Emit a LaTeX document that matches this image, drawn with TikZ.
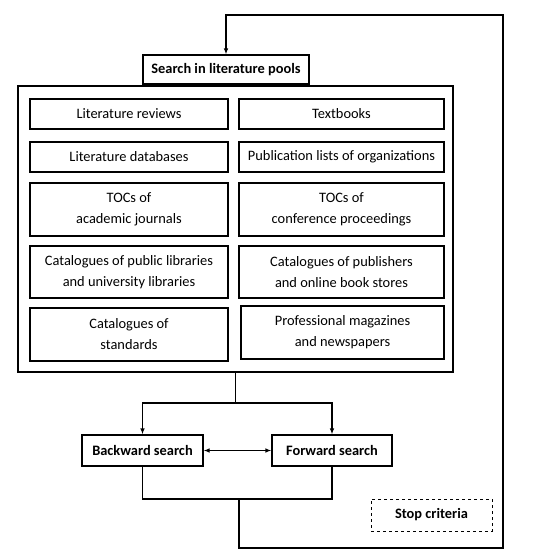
\documentclass[tikz,border=0pt]{standalone}
\usepackage{fontspec}
\setmainfont{Carlito}
\usetikzlibrary{arrows.meta,positioning}
\tikzset{>/.tip={Latex[length=6pt,width=4.5pt]}}

\begin{document}
\begin{tikzpicture}[x=1pt,y=-1pt,font=\fontsize{14.4}{21}\selectfont,line width=1.1pt,
        src/.style={draw,line width=1.4pt,align=center,inner sep=0pt,minimum height=30pt},
        srcl/.style={src,minimum width=198pt},
        srcr/.style={src,minimum width=205pt},
        tall/.style={minimum height=53pt},
        act/.style={draw,font=\fontsize{14.4}{21}\selectfont\bfseries,inner sep=0pt,minimum height=31pt}]
        \useasboundingbox (0,0) rectangle (541,557);
        % literature pools
        \node(pool)[draw,minimum width=435pt,minimum height=286pt,inner sep=0pt] at (235.5,229) {};
        \node(title)[act,minimum width=166pt,minimum height=29pt] at (226,69.5) {Search in literature pools};
        \node(rev)[srcl] at (129,114) {Literature reviews};
        \node(txt)[srcr] at (341.5,114) {Textbooks};
        \node(db)[srcl] at (129,157) {Literature databases};
        \node(pub)[srcr] at (341.5,157) {Publication lists of organizations};
        \node(tocj)[srcl,tall] at (129,209.5) {TOCs of\\academic journals};
        \node(tocc)[srcr,tall] at (341.5,209.5) {TOCs of\\conference proceedings};
        \node(catl)[srcl,minimum height=52pt] at (129,272) {Catalogues of public libraries\\and university libraries};
        \node(catp)[srcr,minimum height=52pt] at (341.5,272) {Catalogues of publishers\\and online book stores};
        \node(std)[srcl,tall] at (129,334.5) {Catalogues of\\standards};
        \node(mag)[src,tall,minimum width=203pt] at (342.5,332.5) {Professional magazines\\and newspapers};
        % search steps
        \node(back)[act,minimum width=121pt] at (142.5,450.5) {Backward search};
        \node(fwd)[act,minimum width=120pt] at (332,450.5) {Forward search};
        \node(stop)[act,dashed,line width=1pt,minimum width=121pt,minimum height=32pt] at (431.5,515) {Stop criteria};
        \coordinate(split) at (pool.south |- 0,403);
        \coordinate(merge) at (239,499);
        \draw (pool.south) -- (split);
        \draw[->] (split) -| (back);
        \draw[->] (split) -| (fwd);
        \draw[<->] (back) -- (fwd);
        \draw (back.south) |- (merge) -| (fwd.south);
        \draw[->] (merge) -- (239,548) -| (503,15) -| (title.north);
      \end{tikzpicture}
\end{document}
